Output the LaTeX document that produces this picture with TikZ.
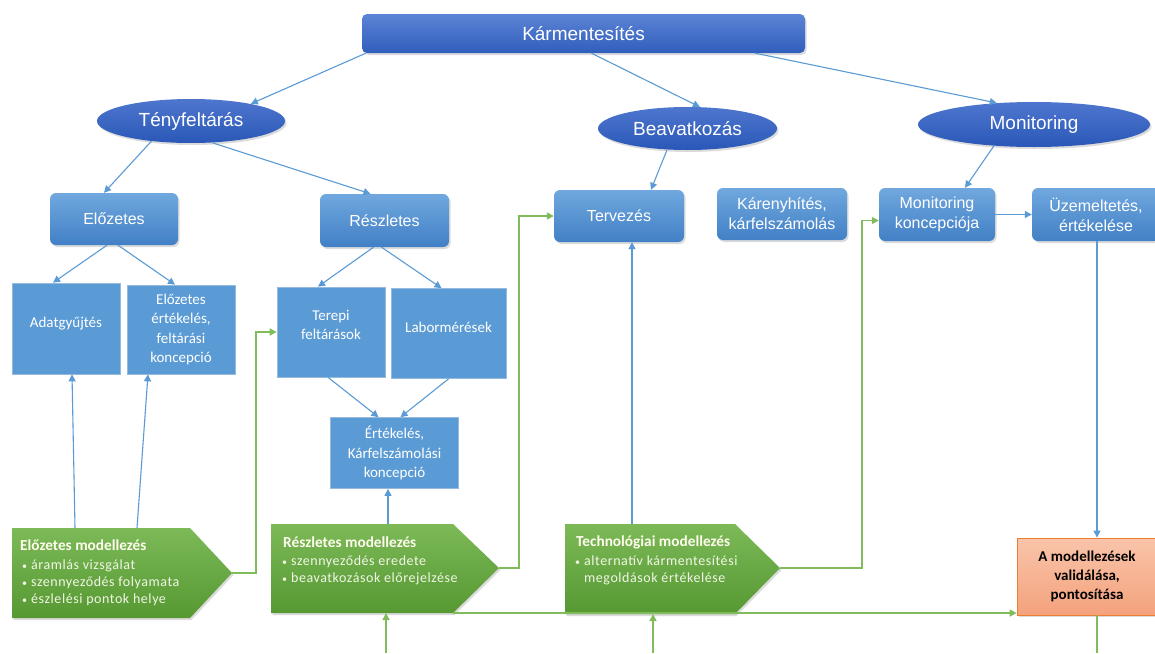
\documentclass[tikz,border=0pt]{standalone}
\usepackage{fontspec}
\setmainfont{Liberation Sans}
\newfontfamily\calf{Carlito}
\newfontfamily\calsp[LetterSpace=4]{Carlito}
\usetikzlibrary{shapes.geometric,arrows.meta,shadows}
\definecolor{bline}{RGB}{91,155,213}
\definecolor{gline}{RGB}{128,188,92}
\definecolor{hdtop}{RGB}{92,132,214}
\definecolor{hdbot}{RGB}{48,94,188}
\definecolor{eltop}{RGB}{78,118,206}
\definecolor{elbot}{RGB}{42,88,184}
\definecolor{gbtop}{RGB}{112,168,222}
\definecolor{gbbot}{RGB}{66,128,198}
\definecolor{flat}{RGB}{91,155,213}
\definecolor{flatb}{RGB}{150,186,222}
\definecolor{grtop}{RGB}{124,186,88}
\definecolor{grbot}{RGB}{86,152,50}
\definecolor{ortop}{RGB}{249,196,170}
\definecolor{orbot}{RGB}{244,162,124}
\definecolor{orb}{RGB}{237,125,49}
\definecolor{bultxt}{RGB}{242,246,230}
\definecolor{ttltxt}{RGB}{255,252,238}
\tikzset{
  shad/.style={drop shadow={shadow xshift=1.5pt,shadow yshift=-2pt,opacity=.28}},
  hdr/.style={rectangle,rounded corners=5pt,top color=hdtop,bottom color=hdbot,text=white,
    font=\fontsize{19}{23}\selectfont,minimum width=443pt,minimum height=39pt,shad},
  ell/.style={ellipse,inner sep=0pt,top color=eltop,bottom color=elbot,text=white,
    font=\fontsize{19}{23}\selectfont,shad},
  gbox/.style={rectangle,rounded corners=6pt,top color=gbtop,bottom color=gbbot,text=white,
    font=\fontsize{16}{20}\selectfont,align=center,minimum width=128pt,minimum height=52pt,shad},
  fbox/.style={rectangle,fill=flat,draw=flatb,line width=.7pt,text=white,
    font=\calf\fontsize{15}{19.5}\selectfont,align=center},
  ftxt/.style={text=white,font=\calf\fontsize{15}{19.5}\selectfont,align=center,inner sep=0pt},
  grn/.style={top color=grtop,bottom color=grbot,shad},
  gtitle/.style={anchor=west,inner sep=0pt,text=ttltxt,font=\calf\bfseries\fontsize{15.3}{17}\selectfont},
  gbul/.style={anchor=north west,inner sep=0pt,text=bultxt,font=\calsp\fontsize{14}{17}\selectfont},
  bl/.style={draw=bline,line width=1.1pt,-{Triangle[length=7pt,width=7pt]}},
  gl/.style={draw=gline,line width=1.5pt,-{Triangle[length=7pt,width=7pt]}},
  glp/.style={draw=gline,line width=1.5pt},
}
\newcommand\bul{{\fontsize{10}{10}\selectfont\textbullet}}
\begin{document}
\begin{tikzpicture}[x=1pt,y=-1pt]
\useasboundingbox (0,0) rectangle (1155,653);
\fill[white] (0,0) rectangle (1155,653);

% top level
\node[hdr] (km) at (583.5,33.5) {Kármentesítés};
\node[ell,minimum width=188pt,minimum height=44pt] (te) at (191,121) {Tényfeltárás};
\node[ell,minimum width=179pt,minimum height=43pt] (be) at (687.5,128.5) {Beavatkozás};
\node[ell,minimum width=232pt,minimum height=45pt] (mo) at (1034,124.5) {Monitoring};

% second level
\node[gbox] (el) at (114,219) {Előzetes};
\node[gbox,minimum width=129pt,minimum height=53pt] (re) at (384.5,220.5) {Részletes};
\node[gbox,minimum width=130pt] (terv) at (619,216) {Tervezés};
\node[gbox,minimum width=130pt] (ka) at (782,214) {Kárenyhítés,\\kárfelszámolás};
\node[gbox,minimum width=116pt,minimum height=53pt] (mk) at (937,214.5) {Monitoring\\koncepciója};
\node[gbox,minimum height=53pt] (uz) at (1096,214.5) {Üzemeltetés,\\értékelése};

% flat boxes
\node[fbox,minimum width=108pt,minimum height=91pt,label={[ftxt,yshift=5pt]center:Adatgyűjtés}] (ad) at (66,328.5) {};
\node[fbox,minimum width=108pt,minimum height=89pt] (ee) at (181,329.5) {Előzetes\\értékelés,\\feltárási\\koncepció};
\node[fbox,minimum width=108pt,minimum height=90pt,label={[ftxt,yshift=7pt]center:Terepi\\feltárások}] (tf) at (331,332) {};
\node[fbox,minimum width=115pt,minimum height=90pt,label={[ftxt,yshift=6pt]center:Labormérések}] (lab) at (448.5,333.5) {};
\node[fbox,minimum width=128pt,minimum height=71pt] (ert) at (394.5,453) {Értékelés,\\Kárfelszámolási\\koncepció};

% validation box
\node[rectangle,top color=ortop,bottom color=orbot,draw=orb,line width=.8pt,
  minimum width=140pt,minimum height=77pt,align=center,
  font=\calf\bfseries\fontsize{15}{19}\selectfont,shad] (val) at (1087,576.5)
  {A modellezések\\validálása,\\pontosítása};

% green modelling shapes
\shade[grn] (12,528) -- (190,528) -- (232,573) -- (190,618) -- (12,618) -- cycle;
\shade[grn] (271,524) -- (453,524) -- (499,568) -- (453,613) -- (271,613) -- cycle;
\shade[grn] (565,524) -- (735,524) -- (780,568) -- (735,614) -- (565,614) -- cycle;
\coordinate (emtip) at (232,573);
\coordinate (rmtip) at (499,568);
\coordinate (tmtip) at (780,568);
\coordinate (rmbr) at (453,613);
\coordinate (em1) at (75,528);
\coordinate (em2) at (137,528);
\coordinate (rm1) at (388,524);
\coordinate (tm1) at (632,524);
\coordinate (rmb) at (386,613);
\coordinate (tmb) at (653,614);
\coordinate (in1) at (386,653);
\coordinate (in2) at (653,653);
\coordinate (out1) at (1097,653);

\node[gtitle] (emt) at (20,545) {Előzetes modellezés};
\node[gbul] (emb) at (22,557) {\begin{tabular}{@{}l@{\hspace{4pt}}l@{}}\bul & áramlás vizsgálat\\ \bul & szennyeződés folyamata\\ \bul & észlelési pontok helye\end{tabular}};
\node[gtitle] (rmt) at (283,542) {Részletes modellezés};
\node[gbul] (rmbl) at (282,553) {\begin{tabular}{@{}l@{\hspace{4pt}}l@{}}\bul & szennyeződés eredete\\ \bul & beavatkozások előrejelzése\end{tabular}};
\node[gtitle] (tmt) at (576,542) {Technológiai modellezés};
\node[gbul] (tmbl) at (575,553) {\begin{tabular}{@{}l@{\hspace{4pt}}l@{}}\bul & alternatív kármentesítési\\ & megoldások értékelése\end{tabular}};

% blue connectors
\draw[bl] ([xshift=4pt]km.south west) -- (te.16);
\draw[bl] ([xshift=8pt]km.south) -- (be.60);
\draw[bl] ([xshift=-50pt]km.south east) -- (mo.150);
\draw[bl] (te.207) -- ([xshift=-10pt]el.north);
\draw[bl] (te.314) -- ([xshift=-14pt]re.north);
\draw[bl] (be.226) -- ([xshift=32pt]terv.north);
\draw[bl] (mo.208) -- ([xshift=28pt]mk.north);
\draw[bl] (mk.east) -- (uz.west);
\draw[bl] ([xshift=-7pt]el.south) -- ([xshift=-13pt]ad.north);
\draw[bl] ([xshift=4pt]el.south) -- ([xshift=-6pt]ee.north);
\draw[bl] ([xshift=-11pt]re.south) -- ([xshift=-13pt]tf.north);
\draw[bl] ([xshift=-3pt]re.south) -- ([xshift=-7pt]lab.north);
\draw[bl] ([xshift=-3pt]tf.south) -- ([xshift=-16pt]ert.north);
\draw[bl] (lab.south) -- ([xshift=6pt]ert.north);
\draw[bl] (em1) -- ([xshift=6pt]ad.south);
\draw[bl] (em2) -- ([xshift=-33pt]ee.south);
\draw[bl] (rm1) -- (rm1 |- ert.south);
\draw[bl] (tm1) -- (tm1 |- terv.south);
\draw[bl] ([xshift=1pt]uz.south) -- ([xshift=1pt]uz.south |- val.north);

% green connectors
\draw[gl] (emtip) -- ++(24,0) |- (tf.west);
\draw[gl] (rmtip) -- ++(20,0) |- (terv.west);
\draw[gl] (tmtip) -- ++(82,0) |- ([yshift=-6pt]mk.west);
\draw[gl] (rmbr) -- (rmbr -| val.west);
\draw[gl] (in1) -- (rmb);
\draw[gl] (in2) -- (tmb);
\draw[glp] (val.south -| out1) -- (out1);
\end{tikzpicture}
\end{document}
